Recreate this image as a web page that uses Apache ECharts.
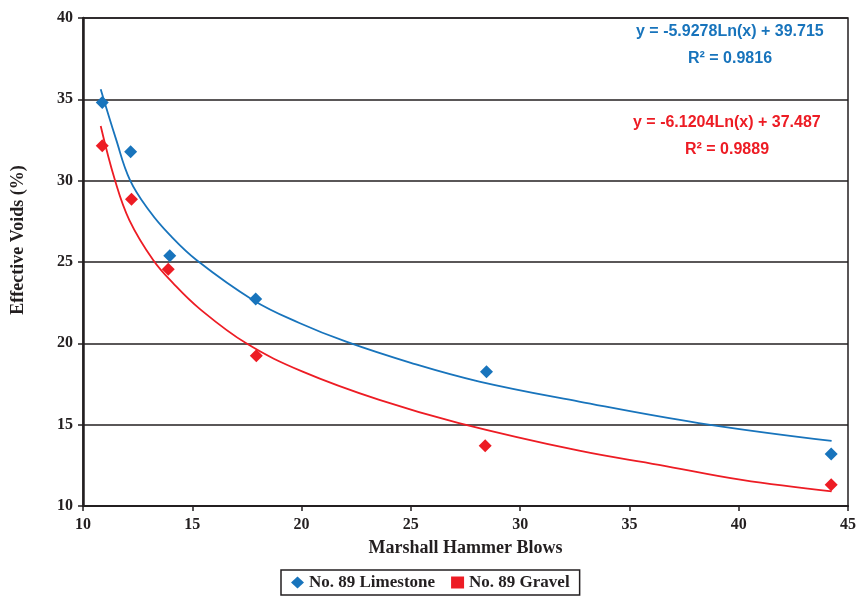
<!DOCTYPE html>
<html>
<head>
<meta charset="utf-8">
<script src="https://cdn.jsdelivr.net/npm/echarts@6/dist/echarts.min.js"></script>
<style>
  html, body { margin: 0; padding: 0; background: #fff; }
  #chart { width: 859px; height: 598px; }
</style>
</head>
<body>
<div id="chart"></div>
<script>
// measured points
var limestoneX = [10.88, 12.18, 13.97, 17.9, 28.46, 44.23];
var limestoneY = [34.8, 31.78, 25.39, 22.73, 18.26, 13.2];
var gravelX = [10.88, 12.22, 13.9, 17.93, 28.4, 44.23];
var gravelY = [32.15, 28.86, 24.55, 19.23, 13.71, 11.3];

// trend lines
var limeTrendX = [10.81, 11.5, 12.15, 13.06, 13.97, 15.19, 17.77, 19.9, 22.04, 25, 28.13, 32.7, 38.17, 44.25];
var limeTrendY = [35.62, 32.6, 30.04, 28.1, 26.66, 25.12, 22.67, 21.25, 20.1, 18.8, 17.65, 16.42, 15.1, 14.0];
var gravTrendX = [10.81, 11.46, 12.12, 13.21, 14.12, 15.34, 17.47, 20.05, 23.56, 27.2, 32.7, 36.35, 40.14, 44.25];
var gravTrendY = [33.36, 30.04, 27.58, 25.12, 23.7, 22.12, 20.0, 18.26, 16.52, 15.1, 13.4, 12.53, 11.6, 10.9];

var blueLabel = ["y = -5.9278Ln(x) + 39.715", "R² = 0.9816"];
var redLabel = ["y = -6.1204Ln(x) + 37.487", "R² = 0.9889"];

var blue = "#1874bc";
var red = "#ed1c24";
var ink = "#231f20";
var serif = "Liberation Serif";
var eqFont = "bold 16px 'Liberation Sans'";

function pairs(xs, ys) {
  return xs.map(function (x, i) { return [x, ys[i]]; });
}

var chart = echarts.init(document.getElementById("chart"));
chart.setOption({
  animation: false,
  grid: {
    left: 83, top: 18, right: 9, bottom: 92,
    show: true, borderColor: ink, borderWidth: 1.5
  },
  xAxis: {
    type: "value", min: 10, max: 45, interval: 5,
    name: "Marshall Hammer Blows",
    nameLocation: "middle", nameGap: 33,
    nameTextStyle: { fontFamily: serif, fontWeight: "bold", fontSize: 18, color: ink },
    axisLine: { lineStyle: { color: ink, width: 2 } },
    axisTick: { show: true, length: 5, lineStyle: { color: ink, width: 1.5 } },
    axisLabel: { fontFamily: serif, fontWeight: "bold", fontSize: 16, color: ink, margin: 11 },
    splitLine: { show: false }
  },
  yAxis: {
    type: "value", min: 10, max: 40, interval: 5,
    axisLine: { show: true, lineStyle: { color: ink, width: 2.5 } },
    axisTick: { show: true, length: 5, lineStyle: { color: ink, width: 1.5 } },
    axisLabel: { fontFamily: serif, fontWeight: "bold", fontSize: 16, color: ink, margin: 10 },
    splitLine: { show: true, lineStyle: { color: ink, width: 1.5 } }
  },
  legend: {
    bottom: 3, left: 281,
    data: [
      { name: "No. 89 Limestone", icon: "diamond" },
      { name: "No. 89 Gravel", icon: "rect" }
    ],
    itemWidth: 13, itemHeight: 12, itemGap: 16,
    borderColor: ink, borderWidth: 1.5, padding: [4, 10],
    textStyle: { fontFamily: serif, fontWeight: "bold", fontSize: 17, color: ink }
  },
  graphic: [
    {
      type: "text", x: 18, y: 240, rotation: Math.PI / 2,
      style: {
        text: "Effective Voids (%)", fill: ink, align: "center", verticalAlign: "middle",
        font: "bold 18px 'Liberation Serif'"
      }
    },
    { type: "text", left: 636, top: 24, style: { text: blueLabel[0], fill: blue, font: eqFont } },
    { type: "text", left: 688, top: 51, style: { text: blueLabel[1], fill: blue, font: eqFont } },
    { type: "text", left: 633, top: 115, style: { text: redLabel[0], fill: red, font: eqFont } },
    { type: "text", left: 685, top: 142, style: { text: redLabel[1], fill: red, font: eqFont } }
  ],
  series: [
    {
      name: "limestone trend", type: "line", data: pairs(limeTrendX, limeTrendY),
      smooth: 0.4, showSymbol: false, silent: true,
      lineStyle: { color: blue, width: 1.8 }
    },
    {
      name: "gravel trend", type: "line", data: pairs(gravTrendX, gravTrendY),
      smooth: 0.4, showSymbol: false, silent: true,
      lineStyle: { color: red, width: 1.8 }
    },
    {
      name: "No. 89 Limestone", type: "scatter", data: pairs(limestoneX, limestoneY),
      symbol: "diamond", symbolSize: 13, itemStyle: { color: blue, opacity: 1 }
    },
    {
      name: "No. 89 Gravel", type: "scatter", data: pairs(gravelX, gravelY),
      symbol: "diamond", symbolSize: 13, itemStyle: { color: red, opacity: 1 }
    }
  ]
});
</script>
</body>
</html>
